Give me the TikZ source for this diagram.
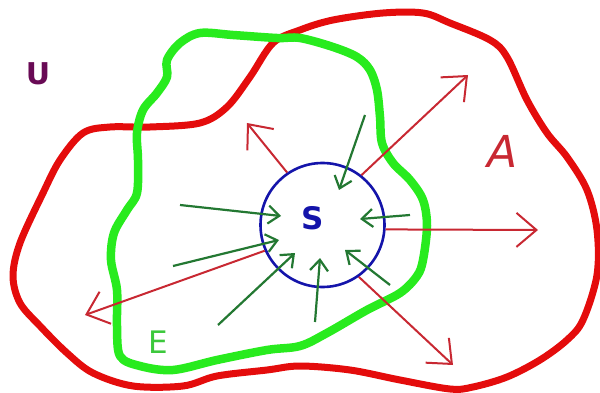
\documentclass[tikz,border=0pt]{standalone}
\usepackage{fontspec}
\setmainfont{DejaVu Sans}
\usetikzlibrary{arrows.meta}
\definecolor{outred}{RGB}{228,12,12}
\definecolor{arrred}{RGB}{200,40,50}
\definecolor{lime}{RGB}{40,235,30}
\definecolor{arrgreen}{RGB}{35,120,50}
\definecolor{cblue}{RGB}{20,20,170}
\definecolor{upurple}{RGB}{105,10,85}
\definecolor{egreen}{RGB}{60,200,60}
\tikzset{
  outline/.style={line width=7pt, line join=round, outred},
  eline/.style={line width=8.5pt, line join=round, lime},
  outarrow/.style={line width=2pt, arrred, -{Straight Barb[length=20pt,width=34pt,line width=2pt]}},
  inarrow/.style={line width=2.2pt, arrgreen, -{Straight Barb[length=11pt,width=18pt,line width=2.2pt]}},
  setcircle/.style={circle, draw=cblue, line width=2.6pt, minimum size=124pt, inner sep=0pt},
  lbl/.style={inner sep=0pt}
}
\begin{document}
\begin{tikzpicture}[x=1pt,y=-1pt]
\useasboundingbox (0,0) rectangle (600,393);
% set A (red)
\draw[outline] plot[smooth cycle, tension=0.55] coordinates {
(300,30) (333,20) (383,13) (423,13) (450,23) (490,40) (507,57) (527,100) (547,133)
(567,157) (587,190) (597,230) (597,275) (583,320) (567,340) (540,360) (507,377)
(473,387) (450,389) (400,380) (350,370) (300,366) (267,370) (217,376) (183,386)
(133,386) (93,373) (67,353) (40,326) (20,303) (13,276) (20,243) (43,193) (60,160)
(83,133) (110,127) (150,127) (200,123) (227,107) (250,77) (273,43)};
% set E (green)
\draw[eline] plot[smooth cycle, tension=0.55] coordinates {
(300,38) (333,47) (357,57) (370,70) (377,90) (380,117) (382,143) (393,163) (410,180)
(423,200) (427,226) (423,260) (417,276) (400,293) (367,310) (327,333) (300,346)
(267,350) (217,360) (173,370) (140,366) (120,356) (117,326) (117,290) (111,260)
(114,233) (127,210) (137,193) (138,160) (137,133) (143,110) (157,93) (167,77)
(167,60) (180,43) (200,33) (233,35) (277,38)};
% set S
\node[setcircle] (S) at (322.5,225) {};
\node[lbl, text=cblue, font=\fontsize{31}{31}\selectfont\bfseries] (Slbl) at (313,218) {S};
% labels
\node[lbl, text=upurple, font=\fontsize{30}{30}\selectfont\bfseries] (U) at (38,74) {U};
\node[lbl, text=arrred, font=\fontsize{44}{44}\selectfont\itshape] (A) at (503,151) {A};
\node[lbl, text=egreen, font=\fontsize{31}{31}\selectfont] (E) at (158,342) {E};
% outward (red) arrow ends
\coordinate (r1) at (247,123);
\coordinate (r2) at (468,75);
\coordinate (r3) at (538,230);
\coordinate (r4) at (453,365);
\coordinate (r5) at (85,315);
\draw[outarrow] (S.124) -- (r1);
\draw[outarrow] (S.52) -- (r2);
\draw[outarrow] (S.-4) -- (r3);
\draw[outarrow] (S.-55) -- (r4);
\draw[outarrow] (S.204) -- (r5);
% inward (green) arrows
\coordinate (g1a) at (180,205); \coordinate (g1b) at (281,216);
\coordinate (g2a) at (173,266); \coordinate (g2b) at (279,240);
\coordinate (g3a) at (218,325); \coordinate (g3b) at (295,253);
\coordinate (g4a) at (365,115); \coordinate (g4b) at (339,190);
\coordinate (g5a) at (410,215); \coordinate (g5b) at (360,219);
\coordinate (g6a) at (390,285); \coordinate (g6b) at (345,250);
\coordinate (g7a) at (315,322); \coordinate (g7b) at (320,258);
\draw[inarrow] (g1a) -- (g1b);
\draw[inarrow] (g2a) -- (g2b);
\draw[inarrow] (g3a) -- (g3b);
\draw[inarrow] (g4a) -- (g4b);
\draw[inarrow] (g5a) -- (g5b);
\draw[inarrow] (g6a) -- (g6b);
\draw[inarrow] (g7a) -- (g7b);
\end{tikzpicture}
\end{document}
